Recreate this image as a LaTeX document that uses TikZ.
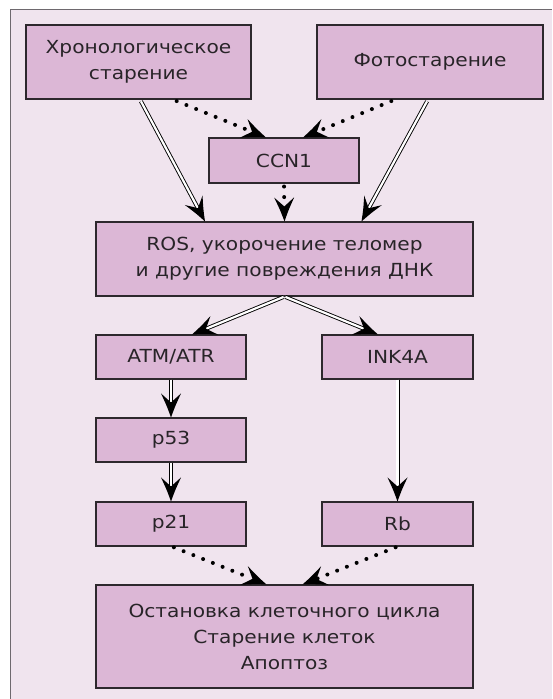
\documentclass[tikz,border=0pt]{standalone}
\usepackage{fontspec}
\setmainfont{DejaVu Sans}[FakeStretch=1.12]
\usetikzlibrary{decorations.markings,calc}
\definecolor{bgpink}{RGB}{240,228,238}
\definecolor{boxpink}{RGB}{220,183,214}
\definecolor{boxline}{RGB}{45,40,45}
\definecolor{txt}{RGB}{40,36,40}
\definecolor{frame}{RGB}{110,105,110}
\tikzset{
  box/.style={draw=boxline, line width=1.1pt, fill=boxpink, align=center,
    inner sep=0pt, text=txt, font=\fontsize{18}{26}\selectfont},
  tipmark/.style={postaction={decorate, decoration={markings,
    mark=at position 1 with {\fill[black] (0pt,0pt) .. controls (-11pt,4pt) .. (-24pt,10pt)
       -- (-15pt,0pt) -- (-24pt,-10pt) .. controls (-11pt,-4pt) .. (0pt,0pt) -- cycle;}}}},
  dbl/.style={draw=black, double=white, line width=0.9pt, double distance=2.2pt,
    shorten >=15pt, tipmark},
  dotarrow/.style={draw=black, line width=4pt, line cap=round,
    dash pattern=on 0pt off 10.5pt, shorten >=16pt, tipmark}
}
\begin{document}
\begin{tikzpicture}[x=1pt,y=-1pt]
\useasboundingbox (0,0) rectangle (552,699);
\fill[white] (0,0) rectangle (552,699);
\fill[bgpink] (10.5,9.5) rectangle (552,699);
\draw[frame, line width=1.5pt] (10.5,699) -- (10.5,9.5) -- (552,9.5);

\node[box, minimum width=225pt, minimum height=74pt] (chron) at (138.5,62) {Хронологическое\\старение};
\node[box, minimum width=226pt, minimum height=74pt] (photo) at (430,62) {Фотостарение};
\node[box, minimum width=150pt, minimum height=45pt] (ccn) at (284,160.5) {CCN1};
\node[box, minimum width=377pt, minimum height=74pt] (ros) at (284.5,259) {ROS, укорочение теломер\\и другие повреждения ДНК};
\node[box, minimum width=150pt, minimum height=44pt] (atm) at (171,357) {ATM/ATR};
\node[box, minimum width=151pt, minimum height=44pt] (ink) at (397.5,357) {INK4A};
\node[box, minimum width=150pt, minimum height=44pt] (p53) at (171,440) {p53};
\node[box, minimum width=150pt, minimum height=44pt] (p21) at (171,524) {p21};
\node[box, minimum width=151pt, minimum height=44pt] (rb) at (397.5,524) {Rb};
\node[box, minimum width=377pt, minimum height=103pt] (stop) at (284.5,636.5) {Остановка клеточного цикла\\Старение клеток\\Апоптоз};

\draw[dbl, shorten <=2pt] ([xshift=1.5pt]chron.south) -- ([xshift=-79.5pt]ros.north);
\draw[dbl, shorten <=2pt] ([xshift=-2pt]photo.south) -- ([xshift=77pt]ros.north);
\draw[dotarrow, shorten <=4pt] ([xshift=34.5pt]chron.south) -- ([xshift=-18pt]ccn.north);
\draw[dotarrow, shorten <=4pt] ([xshift=-35pt]photo.south) -- ([xshift=19pt]ccn.north);
\draw[dotarrow, shorten <=3pt] (ccn.south) -- (ros.north);

\draw[dbl, shorten <=1pt] (ros.south) -- ([xshift=21pt]atm.north);
\draw[dbl, shorten <=1pt] (ros.south) -- ([xshift=-19.5pt]ink.north);
\draw[dbl] (atm.south) -- (p53.north);
\draw[dbl] (p53.south) -- (p21.north);
\draw[dbl] (ink.south) -- (rb.north);

\draw[dotarrow, shorten <=2pt] ([xshift=1pt]p21.south) -- ([xshift=-18pt]stop.north);
\draw[dotarrow, shorten <=2pt] (rb.south) -- ([xshift=18pt]stop.north);
\end{tikzpicture}
\end{document}
